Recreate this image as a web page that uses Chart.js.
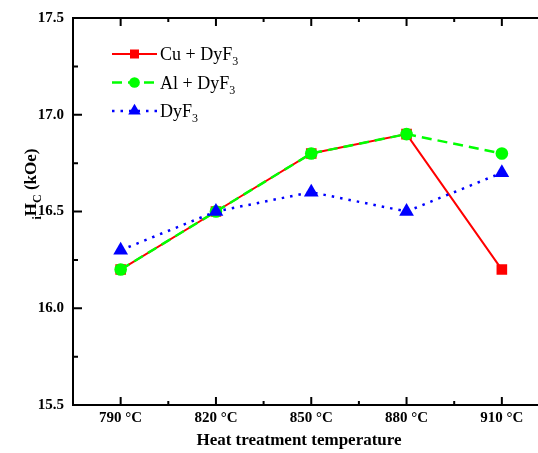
<!DOCTYPE html>
<html>
<head>
<meta charset="utf-8">
<script src="https://cdn.jsdelivr.net/npm/chart.js@4"></script>
<style>
  html, body { margin: 0; padding: 0; overflow: hidden; background: #fff; }
</style>
</head>
<body>
<canvas id="myChart" width="558" height="453"></canvas>
<script>
// data
const temps = ["790 °C", "820 °C", "850 °C", "880 °C", "910 °C"];
const cuDyF3 = [16.2, 16.5, 16.8, 16.9, 16.2];
const alDyF3 = [16.2, 16.5, 16.8, 16.9, 16.8];
const dyF3 = [16.3, 16.5, 16.6, 16.5, 16.7];
const yMajor = [15.5, 16.0, 16.5, 17.0, 17.5];
const legendNames = ["Cu + DyF", "Al + DyF", "DyF"];

const serif = "'Liberation Serif', 'Times New Roman', serif";

const drawMarker = (ctx, style, x, y, r, color) => {
  ctx.fillStyle = color;
  ctx.beginPath();
  if (style === "rect") {
    const s = Math.SQRT1_2 * r;
    ctx.rect(x - s, y - s, 2 * s, 2 * s);
  } else if (style === "circle") {
    ctx.arc(x, y, r, 0, Math.PI * 2);
  } else {
    ctx.moveTo(x, y - r);
    ctx.lineTo(x + r * Math.sqrt(3) / 2, y + r / 2);
    ctx.lineTo(x - r * Math.sqrt(3) / 2, y + r / 2);
    ctx.closePath();
  }
  ctx.fill();
};

// text with subscript parts: [[text, isSub], ...]
const drawParts = (ctx, parts, x, y, big, small) => {
  let cx = x;
  for (const [t, sub] of parts) {
    ctx.font = sub ? small : big;
    ctx.fillText(t, cx, sub ? y + 5 : y);
    cx += ctx.measureText(t).width;
  }
  return cx;
};
const partsWidth = (ctx, parts, big, small) => {
  let w = 0;
  for (const [t, sub] of parts) {
    ctx.font = sub ? small : big;
    w += ctx.measureText(t).width;
  }
  return w;
};

const frame = {
  id: "frame",
  afterDraw(chart) {
    const { ctx, chartArea: a, scales: { x, y } } = chart;
    ctx.save();
    ctx.strokeStyle = "#000";
    ctx.lineWidth = 2;
    ctx.strokeRect(a.left, a.top, a.right - a.left, a.bottom - a.top);

    // inward ticks
    ctx.beginPath();
    yMajor.forEach((v, i) => {
      const py = y.getPixelForValue(v);
      ctx.moveTo(a.left, py); ctx.lineTo(a.left + 9, py);
      ctx.moveTo(a.right, py); ctx.lineTo(a.right - 9, py);
      if (i < yMajor.length - 1) {
        const pm = y.getPixelForValue(v + 0.25);
        ctx.moveTo(a.left, pm); ctx.lineTo(a.left + 5, pm);
        ctx.moveTo(a.right, pm); ctx.lineTo(a.right - 5, pm);
      }
    });
    temps.forEach((t, i) => {
      const px = x.getPixelForValue(i);
      ctx.moveTo(px, a.bottom); ctx.lineTo(px, a.bottom - 8);
      ctx.moveTo(px, a.top); ctx.lineTo(px, a.top + 8);
      if (i < temps.length - 1) {
        const pm = (px + x.getPixelForValue(i + 1)) / 2;
        ctx.moveTo(pm, a.bottom); ctx.lineTo(pm, a.bottom - 4);
        ctx.moveTo(pm, a.top); ctx.lineTo(pm, a.top + 4);
      }
    });
    ctx.stroke();

    ctx.fillStyle = "#000";

    // x title
    ctx.font = "bold 17px " + serif;
    ctx.textAlign = "center";
    ctx.textBaseline = "middle";
    ctx.fillText("Heat treatment temperature", 299, 441);

    // y title  iHc (kOe)
    ctx.textAlign = "left";
    ctx.textBaseline = "alphabetic";
    const big = "bold 17px " + serif, small = "bold 12px " + serif;
    const yParts = [["i", true], ["H", false], ["C", true], [" (kOe)", false]];
    const w = partsWidth(ctx, yParts, big, small);
    ctx.save();
    ctx.translate(36, 184);
    ctx.rotate(-Math.PI / 2);
    ctx.fillStyle = "#000";
    drawParts(ctx, yParts, -w / 2, 0, big, small);
    ctx.restore();

    // legend
    const lbig = "18px " + serif, lsmall = "12px " + serif;
    chart.data.datasets.forEach((ds, i) => {
      const ly = 54 + i * 28.5;
      ctx.save();
      ctx.strokeStyle = ds.borderColor;
      ctx.lineWidth = ds.borderWidth;
      ctx.setLineDash(ds.borderDash || []);
      ctx.beginPath();
      ctx.moveTo(112, ly); ctx.lineTo(157, ly);
      ctx.stroke();
      ctx.restore();
      drawMarker(ctx, ds.pointStyle, 134.5, ly, ds.pointRadius * 0.85, ds.pointBackgroundColor);
      ctx.fillStyle = "#000";
      drawParts(ctx, [[legendNames[i], false], ["3", true]], 160, ly + 6, lbig, lsmall);
    });
    ctx.restore();
  }
};

const ctx = document.getElementById("myChart").getContext("2d");
const chart = new Chart(ctx, {
  type: "line",
  data: {
    labels: temps,
    datasets: [
      {
        label: "Cu + DyF3",
        data: cuDyF3,
        borderColor: "#ff0000",
        borderWidth: 2,
        pointStyle: "rect",
        pointRadius: 7.5,
        pointBackgroundColor: "#ff0000",
        pointBorderWidth: 0,
        order: 2,
      },
      {
        label: "Al + DyF3",
        data: alDyF3,
        borderColor: "#00ff00",
        borderWidth: 2.5,
        borderDash: [10, 6],
        pointStyle: "circle",
        pointRadius: 6.3,
        pointBackgroundColor: "#00ff00",
        pointBorderWidth: 0,
        order: 1,
      },
      {
        label: "DyF3",
        data: dyF3,
        borderColor: "#0000ff",
        borderWidth: 2.5,
        borderDash: [2.5, 6],
        pointStyle: "triangle",
        pointRadius: 8.5,
        pointBackgroundColor: "#0000ff",
        pointBorderWidth: 0,
        order: 0,
      },
    ],
  },
  options: {
    responsive: false,
    animation: false,
    devicePixelRatio: 1,
    events: [],
    layout: { padding: { top: 18, right: 2, left: 0, bottom: 0 } },
    plugins: { legend: { display: false }, tooltip: { enabled: false } },
    scales: {
      x: {
        type: "category",
        offset: true,
        grid: { display: false, drawTicks: false },
        border: { display: false },
        ticks: { color: "#000", padding: 4, font: { family: serif, size: 15, weight: "bold" } },
        afterFit: (s) => { s.height = 48; s.paddingLeft = 0; s.paddingRight = 0; },
      },
      y: {
        min: 15.5,
        max: 17.5,
        grid: { display: false, drawTicks: false },
        border: { display: false },
        ticks: {
          stepSize: 0.5,
          color: "#000",
          padding: 9,
          font: { family: serif, size: 15, weight: "bold" },
          callback: (v) => v.toFixed(1),
        },
        afterFit: (s) => { s.width = 73; s.paddingTop = 0; s.paddingBottom = 0; },
      },
    },
  },
  plugins: [frame],
});
</script>
</body>
</html>
